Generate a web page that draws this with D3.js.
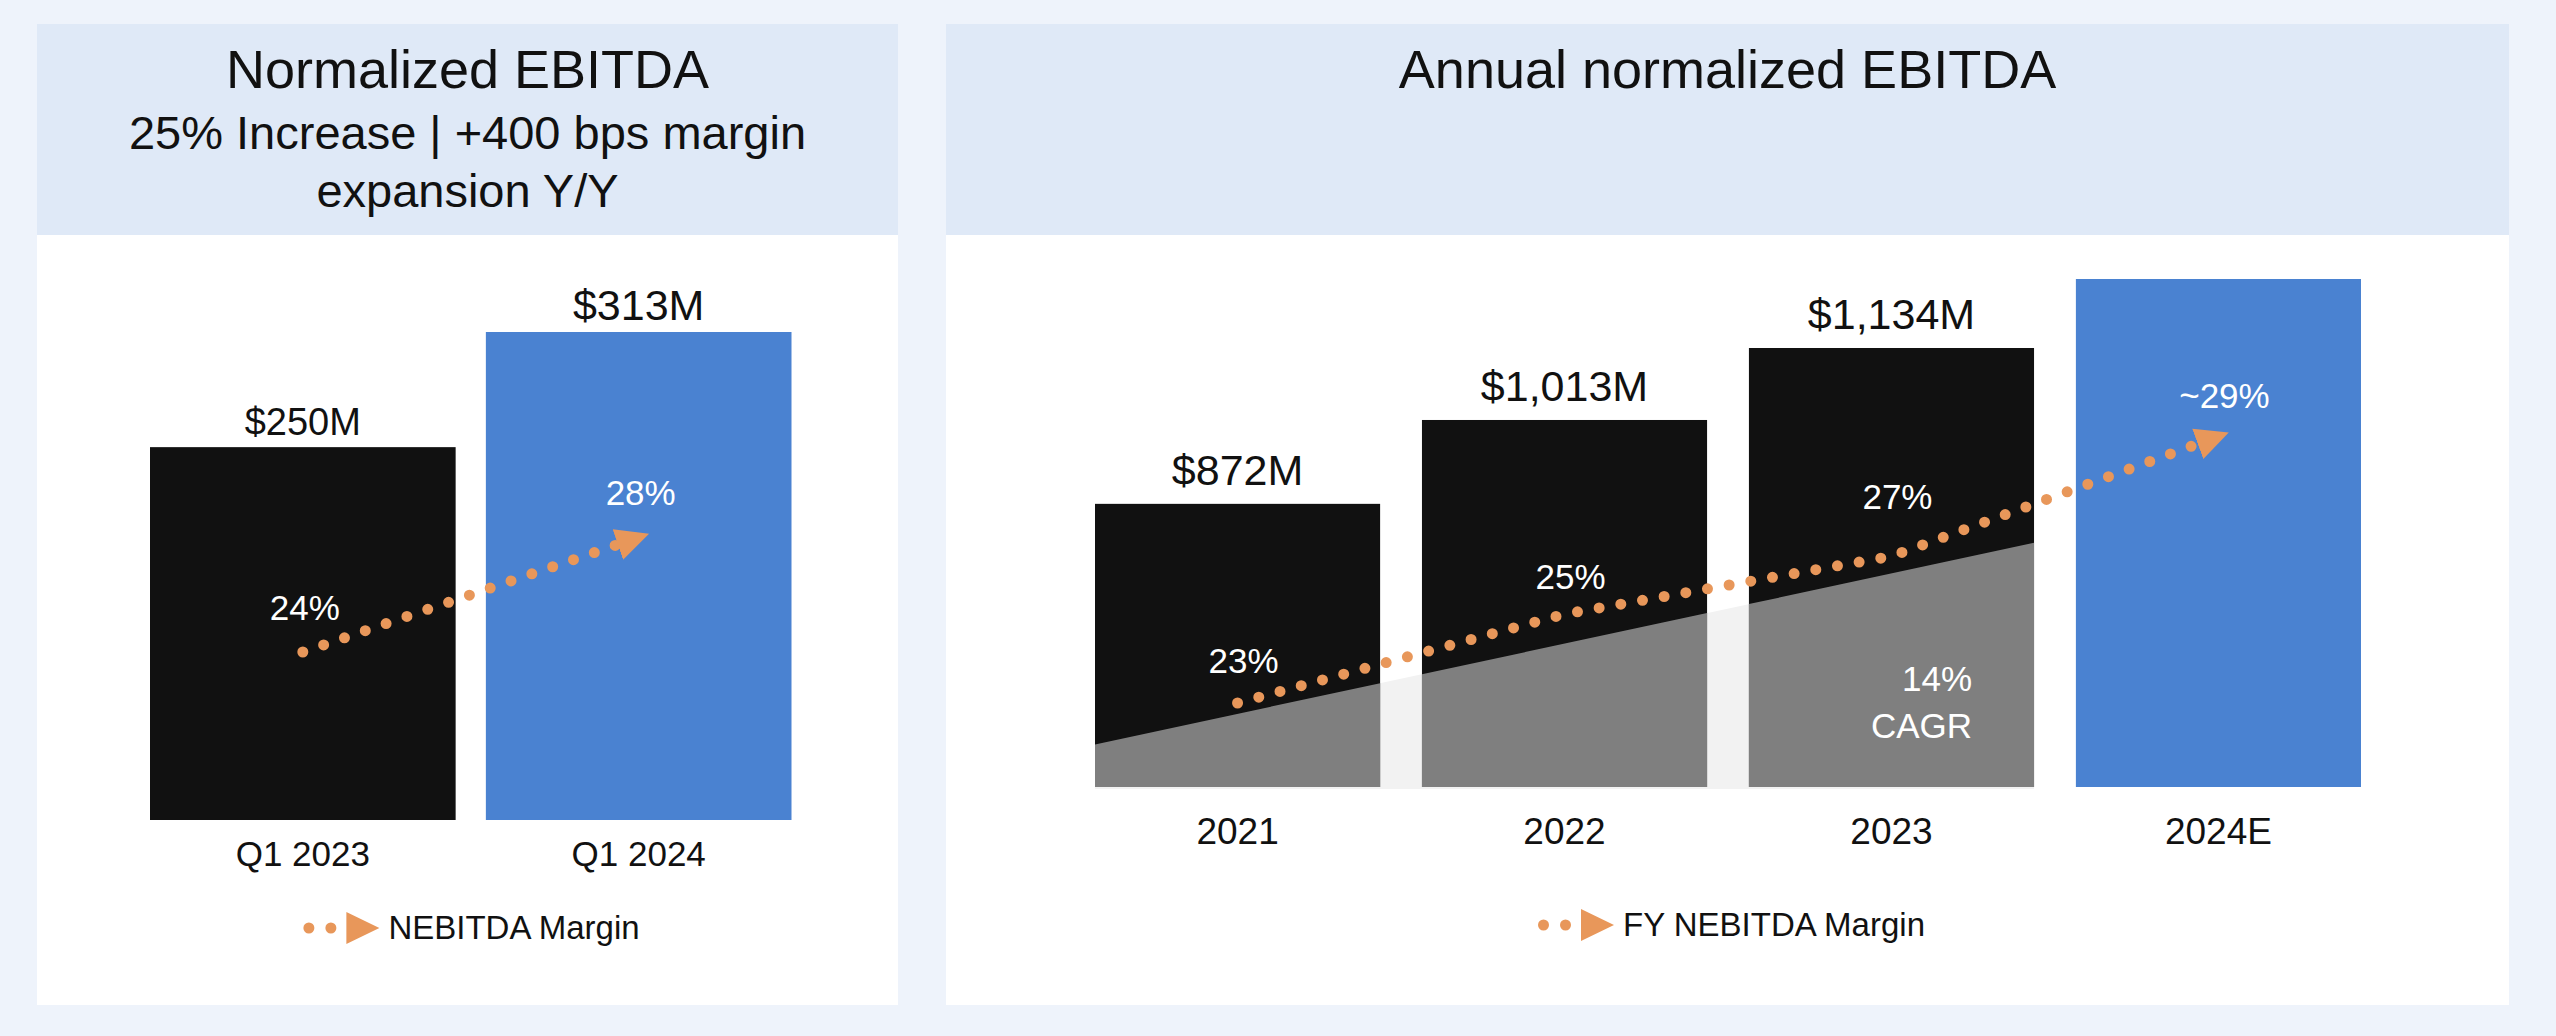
<!DOCTYPE html>
<html>
<head>
<meta charset="utf-8">
<script src="https://cdn.jsdelivr.net/npm/d3@7/dist/d3.min.js"></script>
<style>
  html, body { margin: 0; padding: 0; background: #eef3fb; }
  svg { display: block; }
  text { font-family: "Liberation Sans", Arial, sans-serif; }
</style>
</head>
<body>
<svg id="chart" width="2556" height="1036"></svg>
<script>
// ---------------- DATA ----------------
const leftTitle = "Normalized EBITDA";
const leftSubtitle = ["25% Increase | +400 bps margin", "expansion Y/Y"];
const leftCats = ["Q1 2023", "Q1 2024"];
const leftValues = [250, 313];
const leftValueLabels = ["$250M", "$313M"];
const leftMargins = [24, 28];
const leftMarginLabels = ["24%", "28%"];
const leftLegend = "NEBITDA Margin";

const rightTitle = "Annual normalized EBITDA";
const rightCats = ["2021", "2022", "2023", "2024E"];
const rightValues = [872, 1013, 1134, 1250];
const rightValueLabels = ["$872M", "$1,013M", "$1,134M", ""];
const rightMarginPos = [23, 25, 26.3, 29];
const rightMarginLabels = ["23%", "25%", "27%", "~29%"];
const cagrTrend = [519, 755];           // trend values at 2021 and 2023
const cagrLabel = ["14%", "CAGR"];
const rightLegend = "FY NEBITDA Margin";

// ---------------- STYLE ----------------
const C = {
  page: "#eef3fb", header: "#dfe9f7", panel: "#ffffff",
  black: "#111111", blue: "#4a82d1", gray: "#7f7f7f", gap: "#f2f2f2",
  orange: "#e8975a", text: "#111111", white: "#ffffff"
};
const leftValueFont = [38, 43];
const rightMarginDy = [-30, -25, -47, -28];

const svg = d3.select("#chart");
svg.append("rect").attr("width", 2556).attr("height", 1036).attr("fill", C.page);

// arrow marker
const defs = svg.append("defs");
defs.append("marker")
  .attr("id", "arrow")
  .attr("markerUnits", "userSpaceOnUse")
  .attr("viewBox", "0 -17 34 34")
  .attr("markerWidth", 34).attr("markerHeight", 34)
  .attr("refX", 22).attr("refY", 0)
  .attr("orient", "auto")
  .append("path").attr("d", "M0,-16L33,0L0,16Z").attr("fill", C.orange);

function panel(x, w, title, subtitle) {
  svg.append("rect").attr("x", x).attr("y", 24).attr("width", w).attr("height", 211).attr("fill", C.header);
  svg.append("rect").attr("x", x).attr("y", 235).attr("width", w).attr("height", 770).attr("fill", C.panel);
  const cx = x + w / 2;
  svg.append("text").attr("x", cx).attr("y", 88).attr("text-anchor", "middle")
    .attr("font-size", 54).attr("fill", C.text).text(title);
  (subtitle || []).forEach((s, i) => {
    svg.append("text").attr("x", cx).attr("y", 149 + i * 58).attr("text-anchor", "middle")
      .attr("font-size", 47).attr("fill", C.text).text(s);
  });
  return cx;
}

function legend(cx, cy, label) {
  const g = svg.append("g");
  g.append("circle").attr("cx", 5.5).attr("cy", 0).attr("r", 5.5).attr("fill", C.orange);
  g.append("circle").attr("cx", 27.5).attr("cy", 0).attr("r", 5.5).attr("fill", C.orange);
  g.append("path").attr("d", "M43,-16L76,0L43,16Z").attr("fill", C.orange);
  const t = g.append("text").attr("x", 85).attr("y", 11).attr("font-size", 33).attr("fill", C.text).text(label);
  const w = 85 + t.node().getComputedTextLength();
  g.attr("transform", `translate(${cx + 4 - w / 2},${cy})`);
}

// ---------------- LEFT PANEL ----------------
const lcx = panel(37, 861, leftTitle, leftSubtitle);

const xL = d3.scaleBand().domain(leftCats).range([150, 791.5]).paddingInner(0.09).paddingOuter(0);
const yL = d3.scaleLinear().domain([46, 313]).range([820, 332]);
const mL = d3.scaleLinear().domain([24, 28]).range([652, 537.4]);

const gL = svg.append("g");
gL.selectAll("rect.bar").data(leftCats).join("rect")
  .attr("class", "bar")
  .attr("x", d => xL(d)).attr("width", xL.bandwidth())
  .attr("y", (d, i) => yL(leftValues[i]))
  .attr("height", (d, i) => yL(46) - yL(leftValues[i]))
  .attr("fill", (d, i) => i === 0 ? C.black : C.blue);

gL.selectAll("text.val").data(leftCats).join("text")
  .attr("class", "val")
  .attr("x", d => xL(d) + xL.bandwidth() / 2)
  .attr("y", (d, i) => yL(leftValues[i]) - 12)
  .attr("text-anchor", "middle").attr("font-size", (d, i) => leftValueFont[i]).attr("fill", C.text)
  .text((d, i) => leftValueLabels[i]);

const axL = svg.append("g").attr("transform", `translate(0,${yL(46)})`)
  .call(d3.axisBottom(xL).tickSize(0));
axL.select(".domain").remove();
axL.selectAll("text").attr("y", 46).attr("dy", null)
  .attr("font-size", 35).attr("fill", C.text)
  .style("font-family", '"Liberation Sans", Arial, sans-serif');

const lineL = d3.line().x((d, i) => xL(leftCats[i]) + xL.bandwidth() / 2).y(d => mL(d));
gL.append("path").datum(leftMargins).attr("d", lineL)
  .attr("fill", "none").attr("stroke", C.orange).attr("stroke-width", 11)
  .attr("stroke-linecap", "round").attr("stroke-dasharray", "0 22")
  .attr("marker-end", "url(#arrow)");

gL.selectAll("text.m").data(leftMargins).join("text")
  .attr("class", "m")
  .attr("x", (d, i) => xL(leftCats[i]) + xL.bandwidth() / 2 + 2)
  .attr("y", d => mL(d) - 32)
  .attr("text-anchor", "middle").attr("font-size", 35).attr("fill", C.white)
  .text((d, i) => leftMarginLabels[i]);

legend(lcx, 928, leftLegend);

// ---------------- RIGHT PANEL ----------------
const rcx = panel(946, 1563, rightTitle, null);

const xR = d3.scaleBand().domain(rightCats).range([1095, 2361]).paddingInner(0.128).paddingOuter(0);
const yR = d3.scaleLinear().domain([396, 1250]).range([787, 279]);
const mR = d3.scaleLinear().domain([23, 29]).range([703, 436.3]);
const cxR = d => xR(d) + xR.bandwidth() / 2;

// CAGR trend (extrapolated linearly across bar edges)
const trendY = d3.scaleLinear()
  .domain([cxR(rightCats[0]), cxR(rightCats[2])])
  .range([yR(cagrTrend[0]), yR(cagrTrend[1])]);
const tx0 = xR(rightCats[0]), tx1 = xR(rightCats[2]) + xR.bandwidth();
const base = yR(396);

const gR = svg.append("g");
gR.append("path")
  .attr("d", d3.line()([[tx0, trendY(tx0)], [tx1, trendY(tx1)], [tx1, base + 2], [tx0, base + 2]]) + "Z")
  .attr("fill", C.gap);

gR.selectAll("rect.bar").data(rightCats).join("rect")
  .attr("class", "bar")
  .attr("x", d => xR(d)).attr("width", xR.bandwidth())
  .attr("y", (d, i) => yR(rightValues[i]))
  .attr("height", (d, i) => base - yR(rightValues[i]))
  .attr("fill", (d, i) => i === 3 ? C.blue : C.black);

gR.selectAll("path.trend").data(rightCats.slice(0, 3)).join("path")
  .attr("class", "trend")
  .attr("d", d => {
    const a = xR(d), b = xR(d) + xR.bandwidth();
    return d3.line()([[a, trendY(a)], [b, trendY(b)], [b, base], [a, base]]) + "Z";
  })
  .attr("fill", C.gray);

gR.selectAll("text.val").data(rightCats).join("text")
  .attr("class", "val")
  .attr("x", d => cxR(d))
  .attr("y", (d, i) => yR(rightValues[i]) - 19)
  .attr("text-anchor", "middle").attr("font-size", 43).attr("fill", C.text)
  .text((d, i) => rightValueLabels[i]);

const axR = svg.append("g").attr("transform", `translate(0,${base})`)
  .call(d3.axisBottom(xR).tickSize(0));
axR.select(".domain").remove();
axR.selectAll("text").attr("y", 57).attr("dy", null)
  .attr("font-size", 37).attr("fill", C.text)
  .style("font-family", '"Liberation Sans", Arial, sans-serif');

const lineR = d3.line().x((d, i) => cxR(rightCats[i])).y(d => mR(d));
gR.append("path").datum(rightMarginPos).attr("d", lineR)
  .attr("fill", "none").attr("stroke", C.orange).attr("stroke-width", 11)
  .attr("stroke-linecap", "round").attr("stroke-dasharray", "0 22")
  .attr("marker-end", "url(#arrow)");

gR.selectAll("text.m").data(rightMarginLabels).join("text")
  .attr("class", "m")
  .attr("x", (d, i) => cxR(rightCats[i]) + 6)
  .attr("y", (d, i) => mR(rightMarginPos[i]) + rightMarginDy[i])
  .attr("text-anchor", "middle").attr("font-size", 35).attr("fill", C.white)
  .text(d => d);

const cagrX = xR(rightCats[2]) + xR.bandwidth() - 62;
cagrLabel.forEach((s, i) => {
  gR.append("text").attr("x", cagrX).attr("y", 691 + i * 47)
    .attr("text-anchor", "end").attr("font-size", 35).attr("fill", C.white).text(s);
});

legend(rcx, 925, rightLegend);
</script>
</body>
</html>
